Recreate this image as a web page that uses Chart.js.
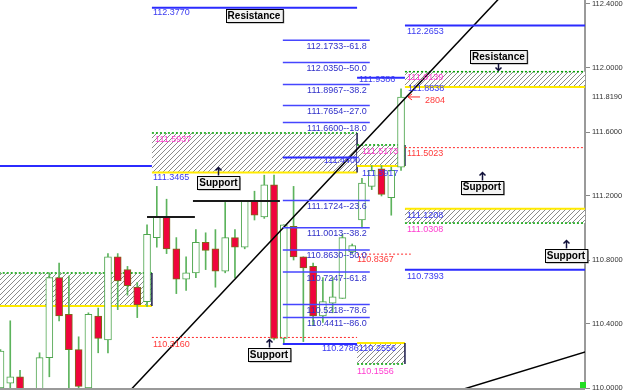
<!DOCTYPE html>
<html>
<head>
<meta charset="utf-8">
<script src="https://cdn.jsdelivr.net/npm/chart.js@4.4.0/dist/chart.umd.min.js"></script>
<style>
    html, body { margin: 0; padding: 0; background: #fff; }
    #wrap { width: 625px; height: 390px; }
</style>
</head>
<body>
<div id="wrap"><canvas id="chart"></canvas></div>
<script>
// candles, one per bar index (null = below the visible range)
const opens  = [110.00, 110.03, 110.07, null, 109.99, 110.19, 110.69, 110.46, 110.24, 110.00, 110.45, 110.30, 110.82, 110.74, 110.63, 110.54, 110.94, 111.07, 110.87, 110.68, 110.72, 110.91, 110.87, 110.73, 110.94, 110.88, 111.17, 111.07, 111.27, 110.31, 111.01, 110.82, 110.76, 110.45, 110.53, 110.56, 110.85, 111.05, 111.26, 111.37, 111.19, 111.38];
const highs  = [110.24, 110.42, 110.11, null, 110.22, 110.72, 110.78, 110.70, 110.32, 110.47, 110.50, 110.84, 110.84, 110.76, 110.66, 111.02, 111.26, 111.18, 110.94, 110.82, 110.99, 110.97, 110.99, 111.16, 110.99, 111.17, 111.23, 111.33, 111.33, 111.02, 111.26, 110.82, 110.78, 110.69, 110.69, 110.96, 110.90, 111.31, 111.39, 111.39, 111.38, 111.87];
const lows   = [109.90, 109.95, 109.90, null, 109.95, 110.07, 110.42, 109.98, 109.98, 109.98, 110.22, 110.22, 110.49, 110.58, 110.44, 110.51, 110.88, 110.84, 110.59, 110.61, 110.69, 110.74, 110.63, 110.72, 110.69, 110.87, 111.05, 111.06, 110.30, 110.28, 110.80, 110.29, 110.39, 110.41, 110.47, 110.56, 110.84, 111.00, 111.24, 111.20, 111.08, 111.36];
const closes = [110.23, 110.07, 109.98, null, 110.19, 110.69, 110.45, 110.24, 110.01, 110.46, 110.31, 110.82, 110.67, 110.64, 110.52, 110.96, 111.07, 110.87, 110.68, 110.72, 110.91, 110.86, 110.73, 110.94, 110.88, 111.17, 111.08, 111.27, 110.31, 111.02, 110.82, 110.75, 110.45, 110.54, 110.57, 110.94, 110.89, 111.28, 111.36, 111.21, 111.36, 111.819];

const yTicks = [110.0, 110.4, 110.8, 111.2, 111.6, 112.0, 112.4];
const lastPrice = 111.8190;
const lastVolume = '2804';

// fibonacci levels [fromBar, toBar]
const fibSpan = [28.9, 37.8];
const fibUpper = [112.1733, 112.0350, 111.8967, 111.7654, 111.6600];
const fibUpperPct = ['61.8', '50.0', '38.2', '27.0', '18.0'];
const fibLower = [111.1724, 111.0013, 110.8630, 110.7247, 110.5218, 110.4411];
const fibLowerPct = ['23.6', '38.2', '50.0', '61.8', '78.6', '86.0'];

// horizontal levels [fromBar, toBar, price]
const blueLevels = [[15.5, 36.5, 112.3770], [41.4, 60, 112.2653], [36.5, 41.4, 111.9386], [28.9, 36.5, 111.4400], [-1, 15.5, 111.3875], [41.4, 60, 110.7393], [28.9, 36.5, 110.2750]];
const redLevels = [[41.4, 60, 111.5023], [36.5, 42.0, 110.8367], [15.5, 36.5, 110.3160]];
const blackLevels = [[15.0, 19.9, 111.069], [19.7, 28.6, 111.169]];
const trendA = [[12, 109.902], [52, 112.497]];
const trendB = [[46, 109.967], [60, 110.228]];

// zones [fromBar, toBar, top, bottom, kind]
const zones = [
    [15.5, 36.5, 111.594, 111.3465, 'S'],
    [36.5, 41.4, 111.519, 111.3875, 'S'],
    [41.4, 60, 111.977, 111.8813, 'R'],
    [41.4, 60, 111.1208, 111.0308, 'D'],
    [-1, 15.5, 110.719, 110.5125, 'S'],
    [36.5, 41.4, 110.2813, 110.1500, 'D']
];

// price tags [bar, price, text]
const blueTags = [[15.61, 112.344, '112.3770'], [41.61, 112.231, '112.2653'], [36.7, 111.931, '111.9386'], [41.71, 111.869, '111.8838'], [33.1, 111.419, '111.4400'], [15.61, 111.3125, '111.3465'], [37.0, 111.3375, '111.3917'], [41.61, 111.081, '111.1208'], [41.61, 110.694, '110.7393'], [32.9, 110.244, '110.2786'], [36.7, 110.244, '110.2556']];
const redTags = [[41.61, 111.4625, '111.5023'], [36.49, 110.800, '110.8367'], [15.61, 110.269, '110.3160']];
const pinkTags = [[15.82, 111.550, '111.5937'], [37.0, 111.475, '111.5173'], [41.61, 111.9375, '111.9139'], [36.49, 110.106, '110.1556'], [41.61, 110.9875, '111.0308']];

// support / resistance labels [bar, price, text, arrow]
const srTags = [[25.95, 112.328, 'Resistance', ''], [50.97, 112.069, 'Resistance', 'down'], [22.31, 111.284, 'Support', 'up'], [27.48, 110.209, 'Support', 'up'], [49.28, 111.256, 'Support', 'up'], [57.88, 110.825, 'Support', 'up']];

const SMALL = '9px "Liberation Sans", Arial, sans-serif';

function makeHatch(ctx) {
    const c = document.createElement('canvas');
    c.width = 5; c.height = 5;
    const g = c.getContext('2d');
    g.fillStyle = '#fff';
    g.fillRect(0, 0, 5, 5);
    g.strokeStyle = '#8a8a8a';
    g.lineWidth = 1;
    g.beginPath();
    g.moveTo(0, 5); g.lineTo(5, 0);
    g.moveTo(-2.5, 2.5); g.lineTo(2.5, -2.5);
    g.moveTo(2.5, 7.5); g.lineTo(7.5, 2.5);
    g.stroke();
    return ctx.createPattern(c, 'repeat');
}

const candleIdx = opens.map((o, i) => i).filter(i => opens[i] !== null);
const bodies = candleIdx.map(i => ({ x: i, y: [opens[i], closes[i]] }));
const wicks = candleIdx.map(i => ({ x: i, y: [lows[i], highs[i]] }));
const bodyFill = candleIdx.map(i => closes[i] >= opens[i] ? '#ffffff' : '#f0043c');
const bodyEdge = candleIdx.map(i => closes[i] >= opens[i] ? '#4fa64f' : '#7a6a18');

function seg(data, color, width, dash) {
    return {
        type: 'line', data: data, borderColor: color, borderWidth: width,
        borderDash: dash || [], pointRadius: 0, fill: false, order: 0, tension: 0
    };
}

const lineSets = [];
fibUpper.concat(fibLower).forEach(p => lineSets.push(seg([{ x: fibSpan[0], y: p }, { x: fibSpan[1], y: p }], '#4646ff', 1.5)));
blueLevels.forEach(l => lineSets.push(seg([{ x: l[0], y: l[2] }, { x: l[1], y: l[2] }], '#2b2bff', 2)));
redLevels.forEach(l => lineSets.push(seg([{ x: l[0], y: l[2] }, { x: l[1], y: l[2] }], '#ff2a2a', 1, [2, 2])));
blackLevels.forEach(l => lineSets.push(seg([{ x: l[0], y: l[2] }, { x: l[1], y: l[2] }], '#1a1a1a', 2)));
lineSets.push(seg(trendA.map(p => ({ x: p[0], y: p[1] })), '#000000', 1.5));
lineSets.push(seg(trendB.map(p => ({ x: p[0], y: p[1] })), '#000000', 1.5));

function drawArrow(ctx, x, y1, y2, color) {
    const dir = y2 < y1 ? 1 : -1;
    ctx.strokeStyle = color;
    ctx.lineWidth = 1.5;
    ctx.beginPath();
    ctx.moveTo(x, y1); ctx.lineTo(x, y2);
    ctx.moveTo(x - 3, y2 + 3 * dir); ctx.lineTo(x, y2); ctx.lineTo(x + 3, y2 + 3 * dir);
    ctx.stroke();
}

const overlay = {
    id: 'overlay',
    beforeDatasetsDraw(chart) {
        const { ctx, chartArea, scales: { x, y } } = chart;
        ctx.save();
        ctx.beginPath();
        ctx.rect(chartArea.left, chartArea.top, chartArea.width, chartArea.height);
        ctx.clip();
        const pat = makeHatch(ctx);
        zones.forEach(z => {
            const x0 = x.getPixelForValue(z[0]), x1 = x.getPixelForValue(z[1]);
            const yt = y.getPixelForValue(z[2]), yb = y.getPixelForValue(z[3]);
            ctx.fillStyle = pat;
            ctx.fillRect(x0, yt, x1 - x0, yb - yt);
            // green dotted on the far side, yellow on the near side
            const yellowY = z[4] === 'D' ? yt : yb;
            const greenY = z[4] === 'D' ? yb : yt;
            ctx.strokeStyle = '#ffea00';
            ctx.lineWidth = 2;
            ctx.beginPath(); ctx.moveTo(x0, yellowY); ctx.lineTo(x1, yellowY); ctx.stroke();
            ctx.strokeStyle = '#00a000';
            ctx.setLineDash([2, 2]);
            ctx.lineWidth = 1.5;
            ctx.beginPath(); ctx.moveTo(x0, greenY); ctx.lineTo(x1, greenY); ctx.stroke();
            ctx.setLineDash([]);
            ctx.strokeStyle = '#1a1a4a';
            ctx.lineWidth = 1.5;
            ctx.beginPath(); ctx.moveTo(x1, yt); ctx.lineTo(x1, yb); ctx.stroke();
        });
        ctx.restore();
    },
    afterDatasetsDraw(chart) {
        const { ctx, chartArea, scales: { x, y } } = chart;
        ctx.save();
        ctx.textBaseline = 'middle';
        ctx.font = SMALL;

        const tags = (list, color) => list.forEach(t => {
            ctx.fillStyle = color;
            ctx.textAlign = 'left';
            ctx.fillText(t[2], x.getPixelForValue(t[0]), y.getPixelForValue(t[1]));
        });
        tags(blueTags, '#3a3af0');
        tags(redTags, '#ff3a3a');
        tags(pinkTags, '#ff3cd0');

        // fib labels, right aligned under each line
        ctx.fillStyle = '#3030c8';
        ctx.textAlign = 'right';
        const fx = x.getPixelForValue(fibSpan[1]) - 3;
        fibUpper.forEach((p, i) => ctx.fillText(p.toFixed(4) + '--' + fibUpperPct[i], fx, y.getPixelForValue(p) + 6));
        fibLower.forEach((p, i) => ctx.fillText(p.toFixed(4) + '--' + fibLowerPct[i], fx, y.getPixelForValue(p) + 6));

        // last price marker
        const lx = x.getPixelForValue(opens.length - 1);
        const ly = y.getPixelForValue(lastPrice);
        ctx.strokeStyle = '#ff2a2a';
        ctx.lineWidth = 1;
        ctx.beginPath();
        ctx.moveTo(lx + 19, ly); ctx.lineTo(lx + 7, ly);
        ctx.moveTo(lx + 11, ly - 3); ctx.lineTo(lx + 7, ly); ctx.lineTo(lx + 11, ly + 3);
        ctx.stroke();
        ctx.fillStyle = '#ff3a3a';
        ctx.textAlign = 'left';
        ctx.fillText(lastVolume, lx + 24, ly + 4);

        // support / resistance boxes
        ctx.font = 'bold 10px "Liberation Sans", Arial, sans-serif';
        srTags.forEach(t => {
            const cx = x.getPixelForValue(t[0]), cy = y.getPixelForValue(t[1]);
            const w = ctx.measureText(t[2]).width + 4, h = 13;
            const bx = Math.round(cx - w / 2) + 0.5, by = Math.round(cy - h / 2) + 0.5;
            ctx.fillStyle = '#9a9a9a';
            ctx.fillRect(bx + 1, by + 1, w, h);
            ctx.fillStyle = '#f2f2f2';
            ctx.fillRect(bx, by, w, h);
            ctx.strokeStyle = '#000';
            ctx.lineWidth = 1;
            ctx.strokeRect(bx, by, w, h);
            ctx.fillStyle = '#000';
            ctx.textAlign = 'center';
            ctx.fillText(t[2], cx, cy + 0.5);
            if (t[3] === 'down') {
                drawArrow(ctx, Math.round(cx) + 0.5, by + h, by + h + 7, '#10103a');
            } else if (t[3] === 'up') {
                drawArrow(ctx, Math.round(cx) + 0.5, by - 1, by - 9, '#10103a');
            }
        });

        // price on the axis, bottom edge, green marker
        ctx.font = '7.5px "Liberation Sans", Arial, sans-serif';
        ctx.fillStyle = '#333';
        ctx.textAlign = 'left';
        ctx.fillText(lastPrice.toFixed(4), chartArea.right + 7, ly);
        ctx.strokeStyle = '#9a9a9a';
        ctx.lineWidth = 2;
        ctx.beginPath();
        ctx.moveTo(chartArea.left, chartArea.bottom + 1);
        ctx.lineTo(chartArea.right, chartArea.bottom + 1);
        ctx.stroke();
        ctx.fillStyle = '#22dd22';
        ctx.fillRect(chartArea.right - 5, chartArea.bottom - 6, 6, 6);
        ctx.restore();
    }
};

new Chart(document.getElementById('chart'), {
    type: 'bar',
    data: {
        datasets: [
            {
                type: 'bar', data: bodies, backgroundColor: bodyFill, borderColor: bodyEdge,
                borderWidth: 1, borderSkipped: false, barThickness: 7, grouped: false, order: 1
            },
            {
                type: 'bar', data: wicks, backgroundColor: '#5cb35c', borderWidth: 0,
                barThickness: 1, grouped: false, order: 2
            }
        ].concat(lineSets)
    },
    options: {
        responsive: true,
        maintainAspectRatio: false,
        animation: false,
        layout: { padding: { top: 0, bottom: 2, left: 0, right: 0 } },
        plugins: { legend: { display: false }, tooltip: { enabled: false } },
        scales: {
            x: { type: 'linear', min: -0.05, max: 59.83, offset: false, display: false },
            y: {
                position: 'right',
                min: 110.0,
                max: 112.425,
                afterBuildTicks: s => { s.ticks = yTicks.map(v => ({ value: v })); },
                afterFit: s => { s.width = 40; s.paddingTop = 0; s.paddingBottom = 0; },
                grid: { drawOnChartArea: false, drawTicks: true, tickLength: 5, color: '#888' },
                border: { color: '#9a9a9a', width: 2 },
                ticks: {
                    padding: 2, color: '#333',
                    font: { family: 'Liberation Sans', size: 7.5 },
                    callback: v => Number(v).toFixed(4)
                }
            }
        }
    },
    plugins: [overlay]
});
</script>
</body>
</html>
